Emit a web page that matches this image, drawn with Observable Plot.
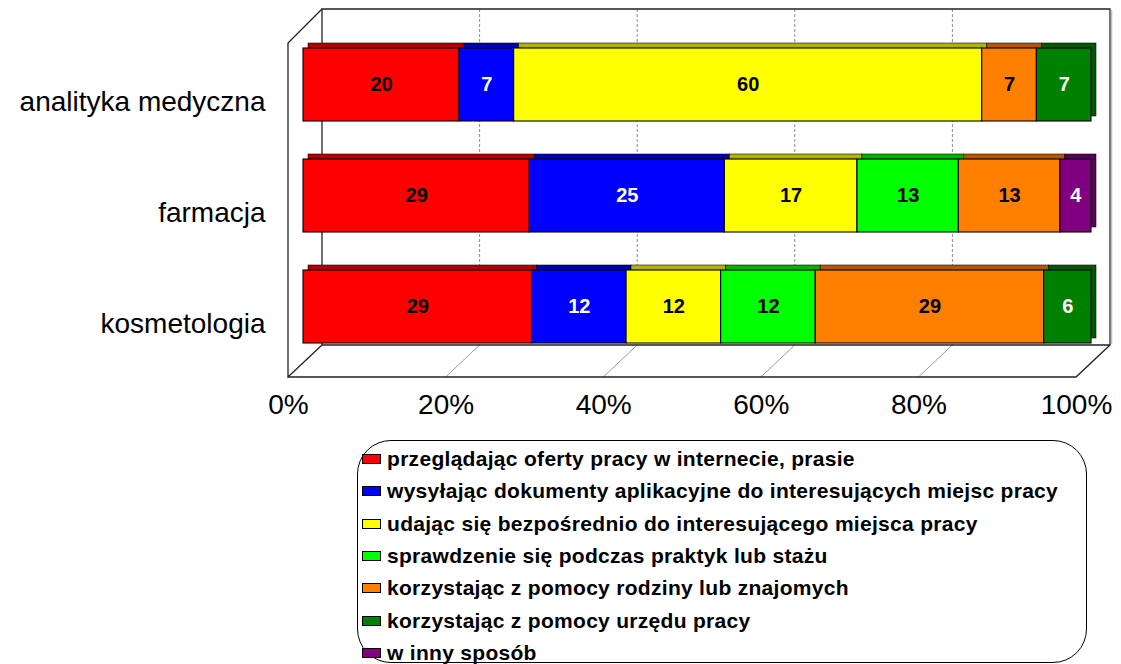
<!DOCTYPE html>
<html><head><meta charset="utf-8">
<script src="https://cdn.jsdelivr.net/npm/d3@7"></script>
<script src="https://cdn.jsdelivr.net/npm/@observablehq/plot@0.6"></script>
<style>
body{margin:0;background:#fff;font-family:"Liberation Sans",Arial,sans-serif;}
#wrap{position:relative;width:1121px;height:664px;overflow:hidden;background:#fff}
#legend{position:absolute;left:357px;top:440px;width:730px;height:223px;border:1.3px solid #000;border-radius:34px;box-sizing:border-box}
.item{position:absolute;left:4px;height:32px;display:flex;align-items:center;font-weight:bold;font-size:21px;letter-spacing:0.3px;white-space:nowrap;color:#000}
.sw{width:17px;height:8px;border:1px solid #000;margin-right:6px;flex:none}
</style></head><body><div id="wrap"><div id="chart"></div><div id="legend"></div></div>
<script>
// ---- data ----
const categories = ["analityka medyczna", "farmacja", "kosmetologia"];
const seriesNames = [
  "przeglądając oferty pracy w internecie, prasie",
  "wysyłając dokumenty aplikacyjne do interesujących miejsc pracy",
  "udając się bezpośrednio do interesującego miejsca pracy",
  "sprawdzenie się podczas praktyk lub stażu",
  "korzystając z pomocy rodziny lub znajomych",
  "korzystając z pomocy urzędu pracy",
  "w inny sposób"
];
const seriesColors = ["#FF0000", "#0000FF", "#FFFF00", "#00FF00", "#FF8000", "#008000", "#800080"];
const labelColors = ["#000000", "#FFFFFF", "#000000", "#000000", "#000000", "#FFFFFF", "#FFFFFF"];
const analitykaValues = [20, 7, 60, null, 7, 7, null];
const farmacjaValues = [29, 25, 17, 13, 13, null, 4];
const kosmetologiaValues = [29, 12, 12, 12, 29, 6, null];
const xTicks = [0, 20, 40, 60, 80, 100];
const xTickLabels = ["0%", "20%", "40%", "60%", "80%", "100%"];

// ---- build normalized stacks (100% stacked) ----
const valuesByCategory = [analitykaValues, farmacjaValues, kosmetologiaValues];
const rows = [];
categories.forEach((cat, ci) => {
  const vals = valuesByCategory[ci];
  const total = d3.sum(vals, v => v || 0);
  let cum = 0;
  vals.forEach((v, si) => {
    if (v == null) return;
    rows.push({cat, series: seriesNames[si], si, value: v,
      x1: cum / total * 100, x2: (cum + v) / total * 100});
    cum += v;
  });
});

// ---- 3D box (walls, floor, gridlines) derived from the x scale ----
const BACK = 19, FRONT = -15;
function box(index, scales, values, dimensions) {
  try {
    const x = scales.x;
    const {height, marginTop, marginBottom} = dimensions;
    const yb = height - marginBottom;
    const backFloor = yb - 37, frontFloor = yb - 5, top = marginTop, frontTop = marginTop + 34;
    const g = d3.create("svg:g").attr("fill", "none");
    const line = (pts, stroke, sw, dash) => g.append("path")
      .attr("d", "M" + pts.map(p => p.join(",")).join("L"))
      .attr("stroke", stroke).attr("stroke-width", sw)
      .attr("stroke-dasharray", dash || null);
    const inner = xTicks.slice(1, -1);
    inner.forEach(t => {
      line([[x(t) + BACK, top], [x(t) + BACK, backFloor]], "#8c8c8c", 1, "3,2");
      line([[x(t) + FRONT, frontFloor], [x(t) + BACK, backFloor]], "#9a9a9a", 1);
    });
    // back wall
    line([[x(0) + BACK, backFloor], [x(0) + BACK, top], [x(100) + BACK, top], [x(100) + BACK, backFloor], [x(0) + BACK, backFloor]], "#222", 1.3);
    line([[x(100) + BACK + 1.5, top + 1], [x(100) + BACK + 1.5, backFloor - 1]], "#bbb", 1.5);
    // left wall
    line([[x(0) + BACK, top], [x(0) + FRONT, frontTop], [x(0) + FRONT, frontFloor], [x(0) + BACK, backFloor]], "#222", 1.3);
    // floor front edge
    line([[x(0) + FRONT, frontFloor], [x(100) + FRONT, frontFloor], [x(100) + BACK, backFloor]], "#222", 1.3);
    return g.node();
  } catch (e) { return null; }
}

const chart = Plot.plot({
  width: 1121,
  height: 432,
  marginLeft: 303,
  marginRight: 30,
  marginTop: 9,
  marginBottom: 50,
  style: {fontFamily: "'Liberation Sans', Arial, sans-serif", background: "#fff", overflow: "visible"},
  x: {domain: [0, 100], axis: null},
  y: {domain: categories, axis: null, padding: 0.342},
  color: {domain: seriesNames, range: seriesColors},
  marks: [
    box,
    // top / side faces (shifted back)
    Plot.barX(rows, {x1: "x1", x2: "x2", y: "cat", fill: "series", dx: 5, dy: -5, stroke: "#000", strokeWidth: 0.7, strokeOpacity: 0.8}),
    Plot.barX(rows, {x1: "x1", x2: "x2", y: "cat", fill: "#000", fillOpacity: 0.3, dx: 5, dy: -5}),
    // front faces
    Plot.barX(rows, {x1: "x1", x2: "x2", y: "cat", fill: "series", stroke: "#000", strokeWidth: 1.1}),
    // value labels
    Plot.text(rows, {x: d => (d.x1 + d.x2) / 2, y: "cat", text: d => String(d.value),
      fill: d => labelColors[d.si], fontSize: 20, fontWeight: "bold"}),
    // x tick labels (front edge of the floor)
    Plot.text(xTicks, {x: d => d, text: (d, i) => xTickLabels[i], frameAnchor: "bottom",
      dx: FRONT, dy: 31, fontSize: 28, fill: "#000"}),
    // category labels
    Plot.text(categories, {y: d => d, text: d => d, frameAnchor: "left", textAnchor: "end",
      dx: -38, dy: 17, fontSize: 28, fill: "#000"})
  ]
});
document.getElementById("chart").appendChild(chart);

// ---- legend ----
const legend = document.getElementById("legend");
seriesNames.forEach((name, i) => {
  const item = document.createElement("div");
  item.className = "item";
  item.style.top = (2 + i * 32.3) + "px";
  const sw = document.createElement("span");
  sw.className = "sw";
  sw.style.background = seriesColors[i];
  const tx = document.createElement("span");
  tx.textContent = name;
  item.appendChild(sw);
  item.appendChild(tx);
  legend.appendChild(item);
});
</script></body></html>
